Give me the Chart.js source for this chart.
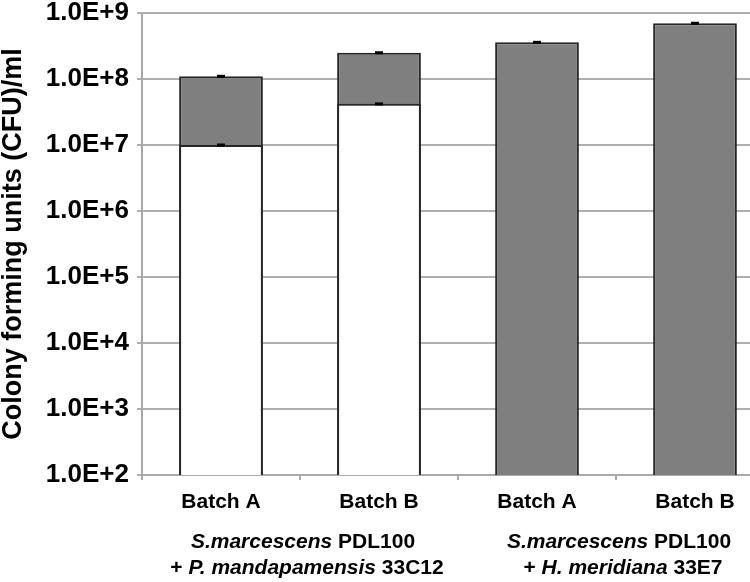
<!DOCTYPE html>
<html>
<head>
<meta charset="utf-8">
<script src="https://cdn.jsdelivr.net/npm/chart.js@4/dist/chart.umd.min.js"></script>
<style>
  html, body { margin: 0; padding: 0; background: #fff; overflow: hidden; width: 750px; height: 582px; }
  #wrap { position: absolute; left: 0; top: 0; width: 774px; height: 582px; }
</style>
</head>
<body>
<div id="wrap"><canvas id="c"></canvas></div>
<script>
// ---- data ----
const categories = ['Batch A', 'Batch B', 'Batch A', 'Batch B'];
const groupLine1 = [
  [['S.marcescens', true], [' PDL100', false]],
  [['S.marcescens', true], [' PDL100', false]]
];
const groupLine2 = [
  [['+ ', false], ['P. mandapamensis', true], [' 33C12', false]],
  [['+ ', false], ['H. meridiana', true], [' 33E7', false]]
];
const groupMembers = [[0, 1], [2, 3]];
const totalValues = [1.1e8, 2.5e8, 3.6e8, 7.0e8];   // grey bar tops
const whiteValues = [1.0e7, 4.2e7, null, null];     // white bar tops
const totalErr = [5e6, 1.1e7, 1.6e7, 3e7];
const whiteErr = [4.5e5, 1.9e6, null, null];
const tickValues = [1e2, 1e3, 1e4, 1e5, 1e6, 1e7, 1e8, 1e9];
const tickLabels = ['1.0E+2', '1.0E+3', '1.0E+4', '1.0E+5', '1.0E+6', '1.0E+7', '1.0E+8', '1.0E+9'];
const yTitle = 'Colony forming units (CFU)/ml';

const FONT = '"Liberation Sans", Arial, sans-serif';

const errorBars = {
  id: 'errorBars',
  afterDatasetsDraw(chart) {
    const ctx = chart.ctx, y = chart.scales.y, x = chart.scales.x;
    ctx.save();
    ctx.fillStyle = '#000';
    const drawSet = (vals, errs) => {
      vals.forEach((v, i) => {
        if (v == null || errs[i] == null) return;
        const cx = x.getPixelForValue(i);
        let yt = y.getPixelForValue(v + errs[i]);
        let yb = y.getPixelForValue(v - errs[i]);
        if (yb - yt < 3) { const m = (yt + yb) / 2; yt = m - 1.5; yb = m + 1.5; }
        ctx.fillRect(cx - 4, yt, 8, yb - yt);
      });
    };
    drawSet(totalValues, totalErr);
    drawSet(whiteValues, whiteErr);
    ctx.restore();
  }
};

const groupLabels = {
  id: 'groupLabels',
  afterDraw(chart) {
    const ctx = chart.ctx, x = chart.scales.x, area = chart.chartArea;
    ctx.save();
    ctx.fillStyle = '#000';
    ctx.textBaseline = 'middle';
    ctx.textAlign = 'left';
    const drawLine = (parts, cx, cy) => {
      let total = 0;
      parts.forEach(([t, it]) => {
        ctx.font = (it ? 'italic ' : '') + 'bold 21px ' + FONT;
        total += ctx.measureText(t).width;
      });
      let px = cx - total / 2;
      parts.forEach(([t, it]) => {
        ctx.font = (it ? 'italic ' : '') + 'bold 21px ' + FONT;
        ctx.fillText(t, px, cy);
        px += ctx.measureText(t).width;
      });
    };
    groupMembers.forEach((m, g) => {
      const cx = (x.getPixelForValue(m[0]) + x.getPixelForValue(m[1])) / 2 + 3;
      drawLine(groupLine1[g], cx, area.bottom + 67);
      drawLine(groupLine2[g], cx + 4, area.bottom + 93);
    });
    ctx.restore();
  }
};

new Chart(document.getElementById('c'), {
  type: 'bar',
  data: {
    labels: categories,
    datasets: [
      {
        label: 'white',
        data: whiteValues,
        backgroundColor: '#ffffff',
        borderColor: '#262626',
        borderWidth: 2,
        order: 1
      },
      {
        label: 'grey',
        data: totalValues,
        backgroundColor: '#7f7f7f',
        borderColor: '#262626',
        borderWidth: 2,
        order: 2
      }
    ]
  },
  options: {
    responsive: true,
    maintainAspectRatio: false,
    animation: false,
    layout: { padding: { top: 13, left: 0, right: 0, bottom: 0 } },
    datasets: { bar: { grouped: false, barPercentage: 0.53, categoryPercentage: 1 } },
    plugins: { legend: { display: false }, tooltip: { enabled: false } },
    scales: {
      x: {
        grid: { display: true, drawOnChartArea: false, drawTicks: true, tickLength: 5, color: '#aaaaaa', lineWidth: 2, offset: true },
        border: { display: true, color: '#aaaaaa', width: 2 },
        ticks: { color: '#000', font: { family: FONT, size: 21, weight: 'bold', lineHeight: 1 }, padding: 12, maxRotation: 0 },
        afterFit(s) { s.height = 107; s.paddingLeft = 0; s.paddingRight = 0; }
      },
      y: {
        type: 'logarithmic',
        min: 1e2,
        max: 1e9,
        afterBuildTicks(s) { s.ticks = tickValues.map(v => ({ value: v, major: true })); },
        grid: { color: '#b0b0b0', lineWidth: 2, drawTicks: true, tickLength: 5 },
        border: { display: true, color: '#aaaaaa', width: 2 },
        ticks: {
          color: '#000',
          font: { family: FONT, size: 26, weight: 'bold', lineHeight: 1 },
          padding: 8,
          callback: (v) => { const i = tickValues.indexOf(v); return i >= 0 ? tickLabels[i] : null; }
        },
        title: {
          display: true,
          text: yTitle,
          color: '#000',
          font: { family: FONT, size: 27, weight: 'bold', lineHeight: 1 },
          padding: { top: 0, bottom: 0 }
        },
        afterFit(s) { s.width = 142; s.paddingTop = 0; s.paddingBottom = 0; }
      }
    }
  },
  plugins: [errorBars, groupLabels]
});
</script>
</body>
</html>
